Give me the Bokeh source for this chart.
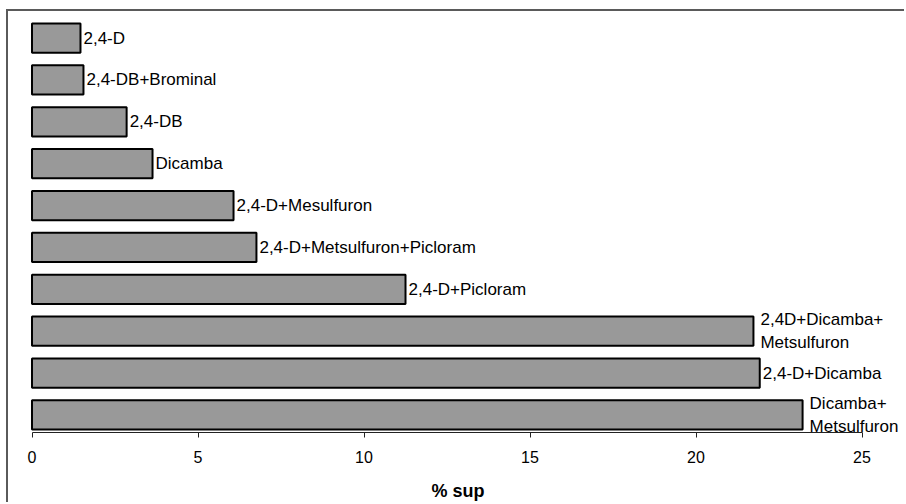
from bokeh.plotting import figure
from bokeh.models import ColumnDataSource, FactorRange, Range1d, SingleIntervalTicker
from bokeh.core.properties import value
from bokeh.embed import file_html
from bokeh.resources import INLINE

# ---- data ----
categories = [
    "2,4-D",
    "2,4-DB+Brominal",
    "2,4-DB",
    "Dicamba",
    "2,4-D+Mesulfuron",
    "2,4-D+Metsulfuron+Picloram",
    "2,4-D+Picloram",
    "2,4D+Dicamba+Metsulfuron",
    "2,4-D+Dicamba",
    "Dicamba+Metsulfuron",
]
display_labels = [
    "2,4-D",
    "2,4-DB+Brominal",
    "2,4-DB",
    "Dicamba",
    "2,4-D+Mesulfuron",
    "2,4-D+Metsulfuron+Picloram",
    "2,4-D+Picloram",
    "2,4D+Dicamba+\nMetsulfuron",
    "2,4-D+Dicamba",
    "Dicamba+\nMetsulfuron",
]
pct_sup = [1.46, 1.55, 2.85, 3.63, 6.07, 6.76, 11.25, 21.73, 21.92, 23.21]
x_ticks_interval = 5
x_axis_title = "% sup"

FONT = "Liberation Sans"

src = ColumnDataSource(dict(cat=categories, val=pct_sup, lab=display_labels))
single = [i for i, l in enumerate(display_labels) if "\n" not in l]
multi = [i for i, l in enumerate(display_labels) if "\n" in l]
src_single = ColumnDataSource(dict(cat=[categories[i] for i in single],
                                   val=[pct_sup[i] for i in single],
                                   lab=[display_labels[i] for i in single]))
src_multi = ColumnDataSource(dict(cat=[categories[i] for i in multi],
                                  val=[pct_sup[i] for i in multi],
                                  lab=[display_labels[i] for i in multi]))

p = figure(
    width=898, height=493,
    y_range=FactorRange(factors=list(reversed(categories)), range_padding=-0.08,
                        range_padding_units="absolute"),
    x_range=Range1d(-0.678, 26.34),
    output_backend="svg", toolbar_location=None,
    y_axis_location=None,
    min_border_left=1, min_border_right=0, min_border_top=9, min_border_bottom=72,
    styles={
        "border-left": "2px solid #5a5a5a",
        "border-top": "2px solid #5a5a5a",
        "margin-left": "6px",
        "margin-top": "9px",
    },
)
p.outline_line_color = None
p.xgrid.visible = False
p.ygrid.visible = False
p.background_fill_color = "white"
p.border_fill_color = "white"

p.hbar(y="cat", right="val", left=0, height=0.7, source=src,
       fill_color="#999999", line_color="black", line_width=2)

p.text(x="val", y="cat", text="lab", source=src_single, x_offset=3,
       text_align="left", text_baseline="middle",
       text_font=value(FONT), text_font_size="17px", text_color="black")
p.text(x="val", y="cat", text="lab", source=src_multi, x_offset=7,
       text_align="left", text_baseline="middle", text_line_height=1.2,
       text_font=value(FONT), text_font_size="17px", text_color="black")

ax = p.xaxis[0]
ax.bounds = (0, 25)
ax.ticker = SingleIntervalTicker(interval=x_ticks_interval)
ax.axis_line_color = "#222222"
ax.axis_line_width = 1
ax.major_tick_line_color = "#222222"
ax.major_tick_out = 5
ax.major_tick_in = 0
ax.minor_tick_line_color = None
ax.major_label_text_font = FONT
ax.major_label_text_font_size = "16px"
ax.major_label_text_color = "black"
ax.major_label_standoff = 13
ax.axis_label = x_axis_title
ax.axis_label_text_font = FONT
ax.axis_label_text_font_size = "18px"
ax.axis_label_text_font_style = "bold"
ax.axis_label_text_color = "black"
ax.axis_label_standoff = 15

open("out.html", "w").write(file_html(p, INLINE))
